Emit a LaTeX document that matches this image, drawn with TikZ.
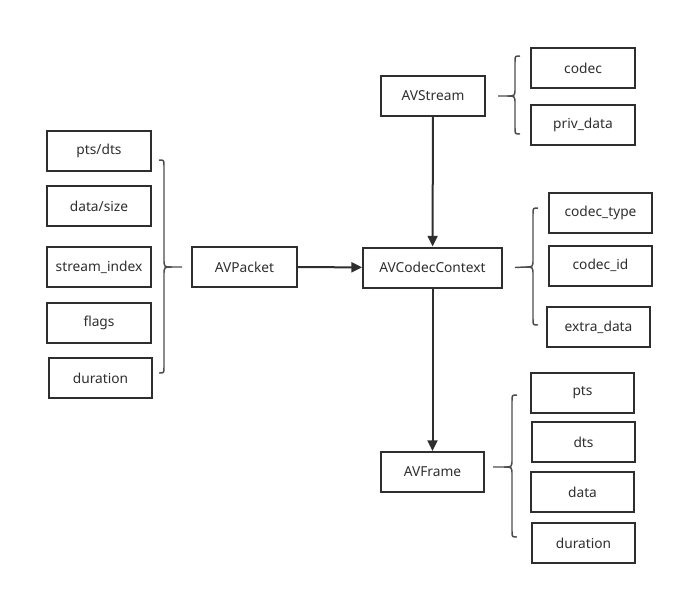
\documentclass[tikz,border=0pt]{standalone}
\usepackage{fontspec}
\setmainfont{Noto Sans}
\usetikzlibrary{arrows.meta,calc}
\definecolor{ink}{HTML}{2E2E2E}
\tikzset{
  box/.style={draw=ink,line width=1.5pt,minimum width=#1*0.75pt,minimum height=30pt,inner sep=0pt,font=\fontsize{10.3pt}{12pt}\selectfont,text=ink},
  box/.default=104,
  flow/.style={draw=ink,line width=1.5pt,-{Triangle[length=8pt,width=7.5pt]}},
  brace/.style={draw=ink!85,line width=1.1pt},
}
\begin{document}
\begin{tikzpicture}[x=0.75pt,y=-0.75pt]
\useasboundingbox (0,0) rectangle (684,594);
% main nodes
\node[box=104] (avs) at (433,96) {AVStream};
\node[box=139] (avcc) at (432.5,267.5) {AVCodecContext};
\node[box=105] (avp) at (244.5,267) {AVPacket};
\node[box=103] (avf) at (432.5,472) {AVFrame};
% AVStream fields
\node[box=104] (codec) at (583,68) {codec};
\node[box=104] (priv) at (583,124.5) {priv\_data};
% AVPacket fields
\node[box=104] (ptsdts) at (99,151) {pts/dts};
\node[box=104] (datasize) at (99,206) {data/size};
\node[box=104] (sidx) at (99,267) {stream\_index};
\node[box=104] (flags) at (99,323) {flags};
\node[box=103] (pdur) at (100.5,378) {duration};
% AVCodecContext fields
\node[box=103] (ctype) at (600.5,213) {codec\_type};
\node[box=103] (cid) at (600.5,265.5) {codec\_id};
\node[box=103] (extra) at (598.5,327) {extra\_data};
% AVFrame fields
\node[box=103] (fpts) at (582.5,393) {pts};
\node[box=103] (fdts) at (583.5,442) {dts};
\node[box=103] (fdata) at (582.5,492) {data};
\node[box=103] (fdur) at (583.5,543) {duration};
% arrows
\draw[flow] (avs) -- (avcc);
\draw[flow] (avp) -- (avcc);
\draw[flow] (avcc) -- (avf);
% braces
\draw[brace] ($(avs.east)+(12,0)$) -- (507,96) .. controls (515,96) .. (515,88) -- (515,62) .. controls (515,56) .. (520,56);
\draw[brace] (507,96) .. controls (515,96) .. (515,104) -- (515,128) .. controls (515,134) .. (520,134);
\draw[brace] ($(avp.west)+(-9,0)$) -- (172,267) .. controls (164,267) .. (164,259) -- (164,166) .. controls (164,160) .. (159,160);
\draw[brace] (172,267) .. controls (164,267) .. (164,275) -- (164,367) .. controls (164,373) .. (159,373);
\draw[brace] ($(avcc.east)+(12,0)$) -- (525,267) .. controls (533,267) .. (533,259) -- (533,214) .. controls (533,208) .. (538,208);
\draw[brace] (525,267) .. controls (533,267) .. (533,275) -- (533,319) .. controls (533,325) .. (538,325);
\draw[brace] ($(avf.east)+(8,-5)$) -- (504,467) .. controls (512,467) .. (512,459) -- (512,401) .. controls (512,395) .. (517,395);
\draw[brace] (504,467) .. controls (512,467) .. (512,475) -- (512,531) .. controls (512,537) .. (517,537);
\end{tikzpicture}
\end{document}
